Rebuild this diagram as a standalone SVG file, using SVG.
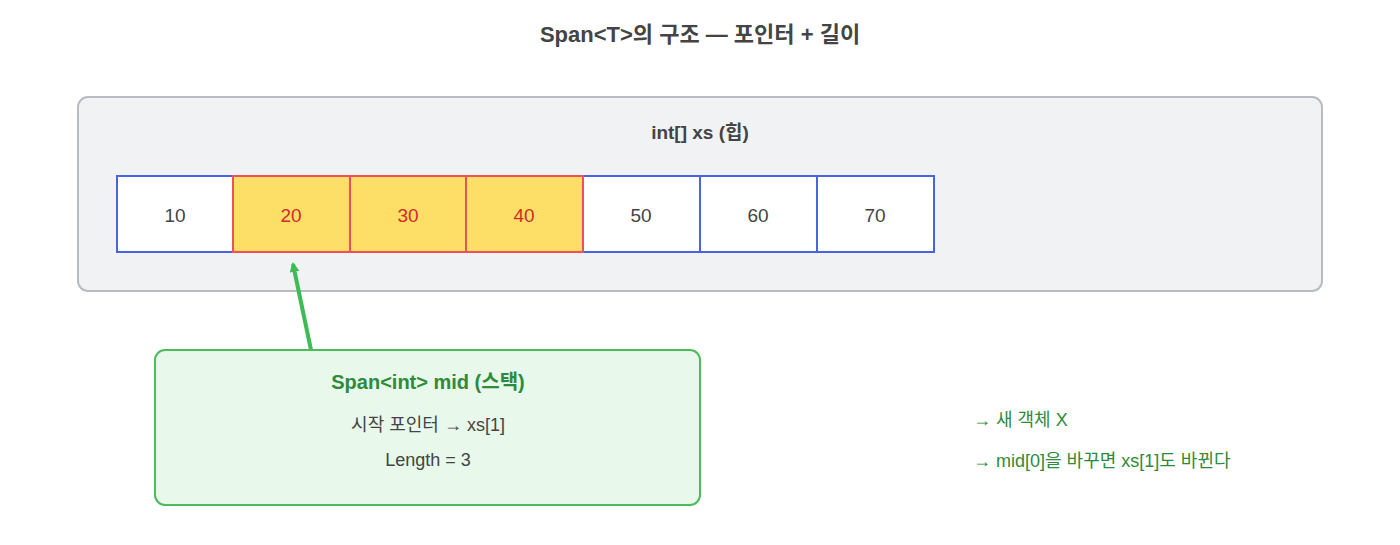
<svg xmlns="http://www.w3.org/2000/svg" width="1400" height="545" viewBox="0 0 1400 545">
<style>
text{font-family:"Liberation Sans","Noto Sans CJK KR",sans-serif}
.c{fill:#fff;stroke:#4a63e0;stroke-width:2}
.h{fill:#fddf68;stroke:#f0505a;stroke-width:2}
.n{font-size:19px;fill:#444;text-anchor:middle}
.r{font-size:19px;fill:#d42a2a;text-anchor:middle}
.g{font-size:18px;fill:#2e8b3a}
</style>
<defs><marker id="ah" markerWidth="10" markerHeight="10" refX="8" refY="5" orient="auto" markerUnits="userSpaceOnUse" viewBox="0 0 10 10"><path d="M0,0L10,5L0,10z" fill="#3dbb55"/></marker></defs>
<rect width="1400" height="545" fill="#fff"/>
<text x="700" y="42" font-size="22" font-weight="bold" fill="#444" text-anchor="middle">Span&lt;T&gt;의 구조 — 포인터 + 길이</text>
<g id="heap">
<rect x="78" y="97" width="1244" height="194" rx="10" fill="#f1f2f4" stroke="#b8bcc2" stroke-width="2"/>
<text x="700" y="139" font-size="19" font-weight="bold" fill="#444" text-anchor="middle">int[] xs (힙)</text>
</g>
<g id="cell0"><rect class="c" x="117" y="176" width="117" height="76"/><text class="n" x="175" y="222">10</text></g>
<g id="cell4"><rect class="c" x="583" y="176" width="117" height="76"/><text class="n" x="641" y="222">50</text></g>
<g id="cell5"><rect class="c" x="700" y="176" width="117" height="76"/><text class="n" x="758" y="222">60</text></g>
<g id="cell6"><rect class="c" x="817" y="176" width="117" height="76"/><text class="n" x="875" y="222">70</text></g>
<g id="cell1"><rect class="h" x="233" y="176" width="117" height="76"/><text class="r" x="291" y="222">20</text></g>
<g id="cell2"><rect class="h" x="350" y="176" width="117" height="76"/><text class="r" x="408" y="222">30</text></g>
<g id="cell3"><rect class="h" x="466" y="176" width="117" height="76"/><text class="r" x="524" y="222">40</text></g>
<g id="connectors"><line x1="311" y1="350" x2="293" y2="264" stroke="#3dbb55" stroke-width="4" marker-end="url(#ah)"/></g>
<g id="span">
<rect x="155" y="350" width="545" height="155" rx="10" fill="#e8f8ea" stroke="#4cbb5c" stroke-width="2"/>
<text x="428" y="389" font-size="20" font-weight="bold" fill="#2e8b3a" text-anchor="middle">Span&lt;int&gt; mid (스택)</text>
<text x="428" y="431" font-size="18" fill="#444" text-anchor="middle">시작 포인터 → xs[1]</text>
<text x="428" y="466" font-size="18" fill="#444" text-anchor="middle">Length = 3</text>
</g>
<g id="notes">
<text class="g" x="973" y="426">→ 새 객체 X</text>
<text class="g" x="973" y="467">→ mid[0]을 바꾸면 xs[1]도 바뀐다</text>
</g>
</svg>
